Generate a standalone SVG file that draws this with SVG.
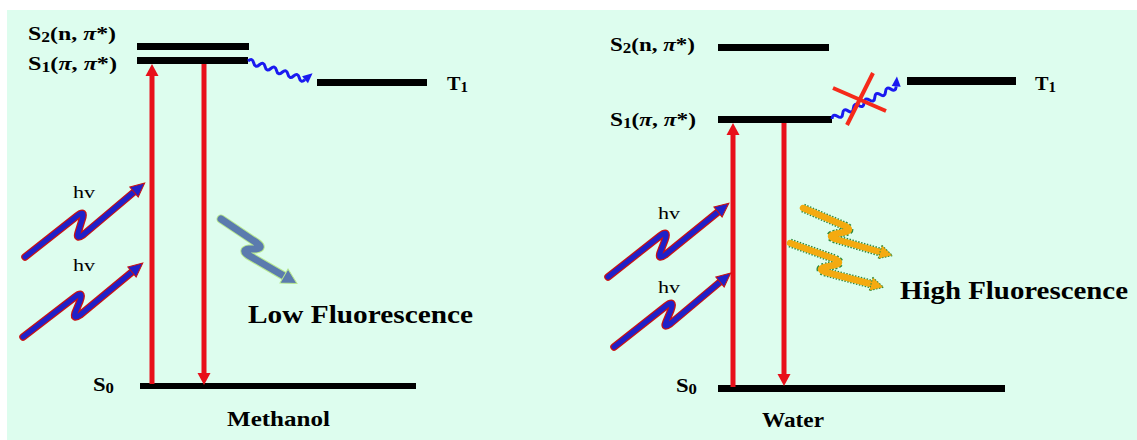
<svg xmlns="http://www.w3.org/2000/svg" width="1137" height="440" viewBox="0 0 1137 440">
<style>
.lvl{fill:#000}
.lbl{font-family:"Liberation Serif","Times New Roman",serif;font-weight:bold;fill:#000}
.hv{font-family:"Liberation Serif","Times New Roman",serif;font-size:16px;fill:#000}
.red{stroke:#E8101A;stroke-width:5;fill:none}
.wave{stroke:#1A1AF0;stroke-width:3;fill:none}
.phU{stroke:#CC1111;stroke-width:7.5;fill:none;stroke-linejoin:round;stroke-linecap:round}
.ph{stroke:#2020C8;stroke-width:5;fill:none;stroke-linejoin:round;stroke-linecap:round}
.slU{stroke:#B8E890;stroke-width:9;fill:none;stroke-linejoin:round;stroke-linecap:round}
.sl{stroke:#5B7BAE;stroke-width:7;fill:none;stroke-linejoin:round;stroke-linecap:round}
.orU{stroke:#2E8B3E;stroke-width:9;fill:none;stroke-linejoin:round;stroke-dasharray:1.5 1.5}
.or{stroke:#F4AA10;stroke-width:6.5;fill:none;stroke-linejoin:round;stroke-linecap:round}
.cross{stroke:#F52A1A;stroke-width:4;fill:none}
</style>
<defs>
<marker id="redHead" markerUnits="userSpaceOnUse" markerWidth="14" markerHeight="14" refX="0" refY="6.5" orient="auto" overflow="visible"><path d="M0,0 L12,6.5 L0,13 z" fill="#E8101A"/></marker>
<marker id="waveHead" markerUnits="userSpaceOnUse" markerWidth="10" markerHeight="10" refX="0" refY="4.5" orient="auto" overflow="visible"><path d="M0,0 L10,4.5 L0,9 z" fill="#1A1AF0"/></marker>
<marker id="photonHead" markerUnits="userSpaceOnUse" markerWidth="16" markerHeight="14" refX="0" refY="6.5" orient="auto" overflow="visible"><path d="M0,0 L14,6.5 L0,13 z" fill="#2020C8" stroke="#CC1111" stroke-width="1"/></marker>
<marker id="slateHead" markerUnits="userSpaceOnUse" markerWidth="17" markerHeight="17" refX="0" refY="8" orient="auto" overflow="visible"><path d="M0,0 L15,8 L0,16 z" fill="#5B7BAE" stroke="#B8E890" stroke-width="1"/></marker>
<marker id="orangeHead" markerUnits="userSpaceOnUse" markerWidth="15" markerHeight="15" refX="0" refY="7" orient="auto" overflow="visible"><path d="M0,0 L13,7 L0,14 z" fill="#F4AA10" stroke="#2E8B3E" stroke-width="1" stroke-dasharray="1.5 1.5"/></marker>
</defs>
<rect x="7" y="10" width="1130" height="430" fill="#DDFDEE"/>

<g id="methanol-S2">
<rect class="lvl" x="137" y="43" width="112" height="7"/>
<text class="lbl" x="28" y="40" font-size="19" textLength="88" lengthAdjust="spacingAndGlyphs">S<tspan font-size="14" dy="2">2</tspan><tspan dy="-2">(n, </tspan><tspan font-style="italic">π</tspan>*)</text>
</g>
<g id="methanol-S1">
<rect class="lvl" x="137" y="57" width="111" height="7"/>
<text class="lbl" x="28" y="70" font-size="19" textLength="89" lengthAdjust="spacingAndGlyphs">S<tspan font-size="14" dy="2">1</tspan><tspan dy="-2">(</tspan><tspan font-style="italic">π</tspan>, <tspan font-style="italic">π</tspan>*)</text>
</g>
<g id="methanol-T1">
<rect class="lvl" x="317" y="79" width="110" height="7"/>
<text class="lbl" x="447" y="90" font-size="19" textLength="21" lengthAdjust="spacingAndGlyphs">T<tspan font-size="14" dy="2">1</tspan></text>
</g>
<g id="methanol-S0">
<rect class="lvl" x="140" y="383" width="276" height="6"/>
<text class="lbl" x="93" y="391" font-size="19" textLength="21" lengthAdjust="spacingAndGlyphs">S<tspan font-size="14" dy="2">0</tspan></text>
</g>
<g id="methanol-labels">
<text class="hv" x="73" y="198" textLength="22" lengthAdjust="spacingAndGlyphs">hv</text>
<text class="hv" x="73" y="271" textLength="22" lengthAdjust="spacingAndGlyphs">hv</text>
<text class="lbl" x="248" y="323" font-size="25" textLength="225" lengthAdjust="spacingAndGlyphs">Low Fluorescence</text>
<text class="lbl" x="227" y="426" font-size="21" textLength="103" lengthAdjust="spacingAndGlyphs">Methanol</text>
</g>

<g id="water-S2">
<rect class="lvl" x="718" y="44" width="111" height="7"/>
<text class="lbl" x="610" y="51" font-size="19" textLength="85" lengthAdjust="spacingAndGlyphs">S<tspan font-size="14" dy="2">2</tspan><tspan dy="-2">(n, </tspan><tspan font-style="italic">π</tspan>*)</text>
</g>
<g id="water-S1">
<rect class="lvl" x="718" y="116" width="114" height="7"/>
<text class="lbl" x="610" y="126" font-size="19" textLength="86" lengthAdjust="spacingAndGlyphs">S<tspan font-size="14" dy="2">1</tspan><tspan dy="-2">(</tspan><tspan font-style="italic">π</tspan>, <tspan font-style="italic">π</tspan>*)</text>
</g>
<g id="water-T1">
<rect class="lvl" x="907" y="77" width="109" height="8"/>
<text class="lbl" x="1035" y="90" font-size="19" textLength="21" lengthAdjust="spacingAndGlyphs">T<tspan font-size="14" dy="2">1</tspan></text>
</g>
<g id="water-S0">
<rect class="lvl" x="718" y="385" width="287" height="7"/>
<text class="lbl" x="676" y="392" font-size="19" textLength="21" lengthAdjust="spacingAndGlyphs">S<tspan font-size="14" dy="2">0</tspan></text>
</g>
<g id="water-labels">
<text class="hv" x="658" y="219" textLength="22" lengthAdjust="spacingAndGlyphs">hv</text>
<text class="hv" x="658" y="293" textLength="22" lengthAdjust="spacingAndGlyphs">hv</text>
<text class="lbl" x="900" y="299" font-size="25" textLength="228" lengthAdjust="spacingAndGlyphs">High Fluorescence</text>
<text class="lbl" x="762" y="427" font-size="21" textLength="62" lengthAdjust="spacingAndGlyphs">Water</text>
</g>

<g id="connectors">
<line class="red" x1="152" y1="384" x2="152" y2="76" marker-end="url(#redHead)"/>
<line class="red" x1="204" y1="64" x2="204" y2="373" marker-end="url(#redHead)"/>
<path class="wave" transform="translate(248,61) rotate(18.2)" d="M0,0 q3,-5 6,0 t6,0 t6,0 t6,0 t6,0 t6,0 t6,0 t6,0 t6,0 t6,0" marker-end="url(#waveHead)"/>
<path class="phU" d="M25,257 L77,216 Q86,209 82,220 L78,233 Q76,240 83,235 L134,192"/>
<path class="ph" d="M25,257 L77,216 Q86,209 82,220 L78,233 Q76,240 83,235 L134,192" marker-end="url(#photonHead)"/>
<path class="phU" d="M23,337 L75,297 Q84,290 80,301 L75,313 Q73,320 80,315 L132,272"/>
<path class="ph" d="M23,337 L75,297 Q84,290 80,301 L75,313 Q73,320 80,315 L132,272" marker-end="url(#photonHead)"/>
<path class="slU" d="M221,219 L257,243 Q264,248 256,249 L249,249 Q241,250 248,255 L284,276"/>
<path class="sl" d="M221,219 L257,243 Q264,248 256,249 L249,249 Q241,250 248,255 L284,276" marker-end="url(#slateHead)"/>
<line class="red" x1="733" y1="387" x2="733" y2="135" marker-end="url(#redHead)"/>
<line class="red" x1="784" y1="123" x2="784" y2="374" marker-end="url(#redHead)"/>
<path class="wave" transform="translate(832,119) rotate(-26.9)" d="M0,0 q3,-5 6,0 t6,0 t6,0 t6,0 t6,0 t6,0 t6,0 t6,0 t6,0 t6,0 t6,0 t6,0" marker-end="url(#waveHead)"/>
<line class="cross" x1="833" y1="88" x2="886" y2="111"/>
<line class="cross" x1="873" y1="73" x2="847" y2="125"/>
<path class="phU" d="M608,277 L660,236 Q669,229 665,240 L660,253 Q658,260 665,255 L718,212"/>
<path class="ph" d="M608,277 L660,236 Q669,229 665,240 L660,253 Q658,260 665,255 L718,212" marker-end="url(#photonHead)"/>
<path class="phU" d="M614,347 L666,306 Q675,299 671,310 L666,322 Q663,329 670,324 L720,282"/>
<path class="ph" d="M614,347 L666,306 Q675,299 671,310 L666,322 Q663,329 670,324 L720,282" marker-end="url(#photonHead)"/>
<path class="orU" d="M803,208 L845,226 Q853,230 845,232 L835,234 Q827,236 835,239 L880,252"/>
<path class="or" d="M803,208 L845,226 Q853,230 845,232 L835,234 Q827,236 835,239 L880,252" marker-end="url(#orangeHead)"/>
<path class="orU" d="M790,243 L835,259 Q843,263 835,265 L825,267 Q817,269 825,272 L871,284"/>
<path class="or" d="M790,243 L835,259 Q843,263 835,265 L825,267 Q817,269 825,272 L871,284" marker-end="url(#orangeHead)"/>
</g>
</svg>
